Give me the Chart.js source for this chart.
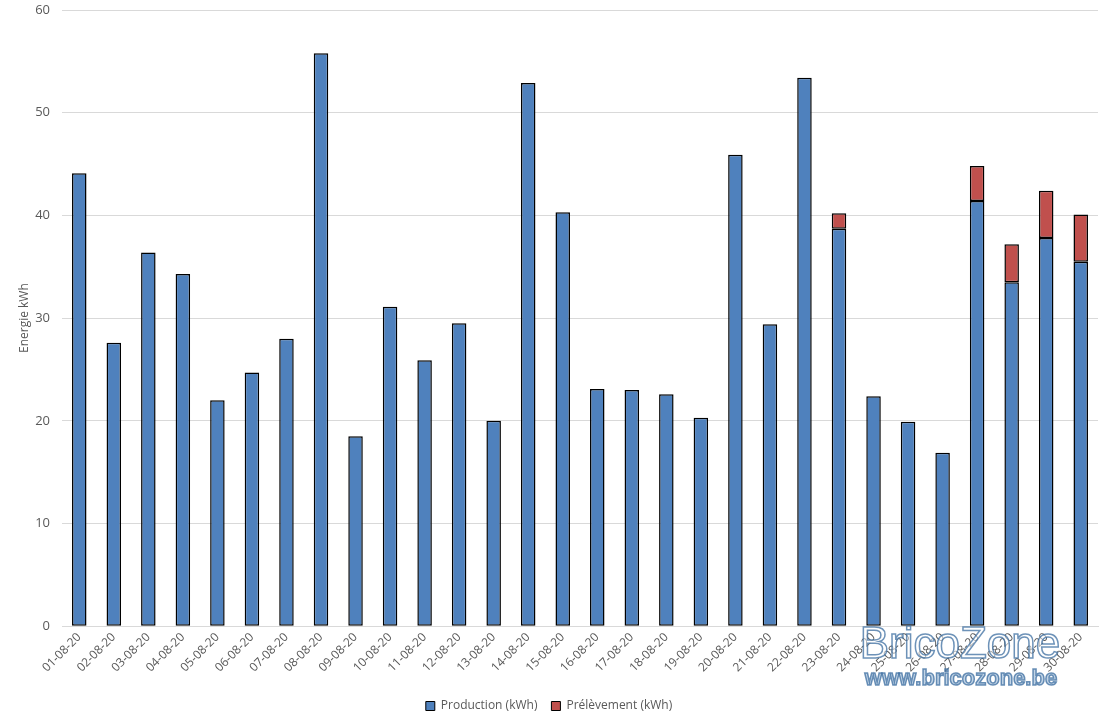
<!DOCTYPE html>
<html>
<head>
<meta charset="utf-8">
<script src="https://cdn.jsdelivr.net/npm/chart.js@4.4.1/dist/chart.umd.min.js"></script>
<style>
	html, body { margin: 0; padding: 0; background: #fff; }
	#wrap { width: 1105px; height: 722px; }
</style>
</head>
<body>
<div id="wrap"><canvas id="chartjs_energie"></canvas></div>
<script>
// daily values
const jours = ["01-08-20", "02-08-20", "03-08-20", "04-08-20", "05-08-20", "06-08-20", "07-08-20", "08-08-20", "09-08-20", "10-08-20",
	"11-08-20", "12-08-20", "13-08-20", "14-08-20", "15-08-20", "16-08-20", "17-08-20", "18-08-20", "19-08-20", "20-08-20",
	"21-08-20", "22-08-20", "23-08-20", "24-08-20", "25-08-20", "26-08-20", "27-08-20", "28-08-20", "29-08-20", "30-08-20"];
const production = [44.1, 27.6, 36.4, 34.3, 22.0, 24.7, 28.0, 55.8, 18.5, 31.1,
	25.9, 29.5, 20.0, 52.9, 40.3, 23.1, 23.0, 22.6, 20.3, 45.9,
	29.4, 53.4, 38.7, 22.4, 19.9, 16.9, 41.4, 33.5, 37.8, 35.5];
const prelevement = [0, 0, 0, 0, 0, 0, 0, 0, 0, 0,
	0, 0, 0, 0, 0, 0, 0, 0, 0, 0,
	0, 0, 1.5, 0, 0, 0, 3.4, 3.7, 4.6, 4.6];

const grisTexte = '#595959';
const police = "'Open Sans', 'DejaVu Sans', sans-serif";

// watermark drawn over the chart
const filigrane = {
	id: 'filigrane',
	afterDraw(chart) {
		const ctx = chart.ctx;
		ctx.save();
		ctx.textAlign = 'center';
		ctx.textBaseline = 'middle';
		ctx.lineWidth = 1.5;
		ctx.strokeStyle = 'rgba(60,110,160,0.75)';
		ctx.fillStyle = 'rgba(255,255,255,0.5)';
		ctx.font = "44px 'Liberation Sans', Arial, sans-serif";
		ctx.fillText('BricoZone', 960, 646);
		ctx.strokeText('BricoZone', 960, 646);
		ctx.font = "bold 22px 'Liberation Sans', Arial, sans-serif";
		ctx.fillStyle = 'rgba(120,160,200,0.45)';
		ctx.fillText('www.bricozone.be', 961, 679);
		ctx.strokeText('www.bricozone.be', 961, 679);
		ctx.restore();
	}
};

document.addEventListener("DOMContentLoaded", function () {
	new Chart(document.getElementById("chartjs_energie"), {
		type: 'bar',
		data: {
			labels: jours,
			datasets: [
				{
					label: 'Production (kWh)',
					data: production,
					backgroundColor: '#4f81bd',
					borderColor: '#000000',
					borderWidth: 1.5,
					borderSkipped: false,
					barPercentage: 0.42,
					categoryPercentage: 1
				},
				{
					label: 'Prélèvement (kWh)',
					data: prelevement,
					backgroundColor: '#c0504d',
					borderColor: '#000000',
					borderWidth: 1.5,
					borderSkipped: false,
					barPercentage: 0.42,
					categoryPercentage: 1
				}
			]
		},
		options: {
			responsive: true,
			maintainAspectRatio: false,
			animation: false,
			layout: { padding: { top: 10, right: 7, bottom: 0, left: 0 } },
			plugins: {
				legend: {
					position: 'bottom',
					labels: {
						color: grisTexte,
						font: { family: police, size: 12 },
						boxWidth: 9,
						boxHeight: 9,
						padding: 14,
						generateLabels: (chart) => chart.data.datasets.map((ds, i) => ({
							text: ds.label,
							fillStyle: ds.backgroundColor,
							strokeStyle: '#000',
							lineWidth: 1,
							fontColor: grisTexte,
							datasetIndex: i
						}))
					}
				},
				tooltip: { enabled: false }
			},
			scales: {
				x: {
					stacked: true,
					grid: { display: false, drawTicks: false },
					border: { color: '#d9d9d9' },
					ticks: {
						color: grisTexte,
						font: { family: police, size: 12 },
						minRotation: 45,
						maxRotation: 45,
						autoSkip: false,
						padding: 4
					},
					afterFit: (axis) => { axis.height += 7; }
				},
				y: {
					stacked: true,
					min: 0,
					max: 60,
					ticks: {
						stepSize: 10,
						color: grisTexte,
						font: { family: police, size: 13 },
						padding: 12
					},
					grid: { color: '#d9d9d9', drawTicks: false },
					border: { display: false },
					title: {
						display: true,
						text: 'Energie kWh',
						color: grisTexte,
						font: { family: police, size: 12 },
						padding: { top: 17, bottom: 4 }
					},
					afterFit: (axis) => {
						axis.width = 62;
						axis.paddingTop = 0;
						axis.paddingBottom = 0;
					}
				}
			}
		},
		plugins: [filigrane]
	});
});
</script>
</body>
</html>
